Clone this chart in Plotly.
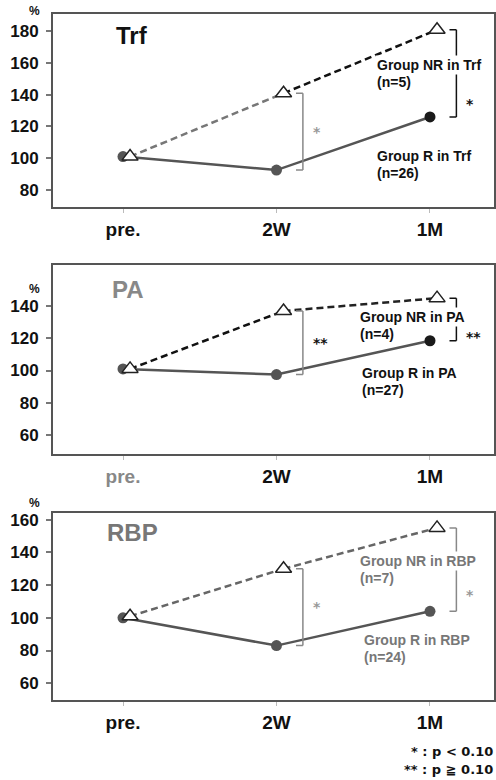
import plotly.graph_objects as go

# ---------------- data ----------------
categories = ["pre.", "2W", "1M"]
panel_names = ["Trf", "PA", "RBP"]

r_trf = [101, 92.5, 126]
nr_trf = [101, 141, 181]
r_pa = [101, 97.5, 118.5]
nr_pa = [101, 137, 145]
r_rbp = [100, 83, 104]
nr_rbp = [101, 130, 155]

n_r = [26, 27, 24]
n_nr = [5, 4, 7]

yticks_trf = [80, 100, 120, 140, 160, 180]
yticks_pa = [60, 80, 100, 120, 140]
yticks_rbp = [60, 80, 100, 120, 140, 160]

sig_labels = [["*", "*"], ["**", "**"], ["*", "*"]]  # at 2W, 1M
legend_lines = ["* : p < 0.10", "** : p \u2267 0.10"]

# ---------------- styling ----------------
W, H = 496, 780
L, R = 53, 2
FONT = "Liberation Sans, Arial, sans-serif"


def px_x(px):
    return (px - L) / (W - L - R)


def px_y(py):
    return (H - py) / H


panels = [
    dict(r=r_trf, nr=nr_trf, ticks=yticks_trf, box=(206, 12), yr=[68.9, 191],
         title_c="#111", txt_c="#111", r_marker=["#555", "#555", "#1a1a1a"],
         nr_seg=["#777", "#111"], br_c=["#888", "#111"], star_c=["#999", "#111"],
         star_frac=[0.5, 0.85], pre_c="#111",
         title_pos=(114, 34), nr_pos=(375, 63), r_pos=(375, 154), pct=(34, 9)),
    dict(r=r_pa, nr=nr_pa, ticks=yticks_pa, box=(453, 264), yr=[48.2, 165.4],
         title_c="#888", txt_c="#111", r_marker=["#555", "#555", "#1a1a1a"],
         nr_seg=["#111", "#222"], br_c=["#888", "#111"], star_c=["#111", "#111"],
         star_frac=[0.5, 0.9], pre_c="#888",
         title_pos=(110, 288), nr_pos=(358, 316), r_pos=(360, 372), pct=(34, 288)),
    dict(r=r_rbp, nr=nr_rbp, ticks=yticks_rbp, box=(700, 512), yr=[49.6, 164.3],
         title_c="#777", txt_c="#777", r_marker=["#555", "#555", "#555"],
         nr_seg=["#666", "#666"], br_c=["#888", "#888"], star_c=["#999", "#999"],
         star_frac=[0.5, 0.8], pre_c="#111",
         title_pos=(105, 532), nr_pos=(358, 560), r_pos=(362, 640), pct=(34, 502)),
]

xs = list(range(len(categories)))
tri_off = 0.046
br_off = 0.172
hook = 0.045

fig = go.Figure()
shapes = []
annotations = []

for i, p in enumerate(panels):
    sfx = "" if i == 0 else str(i + 1)
    xref, yref = "x" + sfx, "y" + sfx
    xt = [x + tri_off for x in xs]

    # NR dashed segments
    for s in range(len(xs) - 1):
        fig.add_trace(go.Scatter(
            x=[xt[s], xt[s + 1]], y=[p["nr"][s], p["nr"][s + 1]], mode="lines",
            line=dict(color=p["nr_seg"][s], width=2.5, dash="7px,4px"),
            xaxis=xref, yaxis=yref, showlegend=False, hoverinfo="skip"))
    # R solid line with circles
    fig.add_trace(go.Scatter(
        x=xs, y=p["r"], mode="lines+markers",
        line=dict(color="#555", width=2.5),
        marker=dict(size=11, color=p["r_marker"]),
        xaxis=xref, yaxis=yref, showlegend=False))
    # NR triangles
    fig.add_trace(go.Scatter(
        x=xt, y=p["nr"], mode="markers",
        marker=dict(symbol="triangle-up", size=14, color="white",
                    line=dict(color="#222", width=1.5)),
        xaxis=xref, yaxis=yref, showlegend=False))

    # significance brackets at 2W and 1M
    for k, j in enumerate([1, 2]):
        xb = xs[j] + br_off
        yt, yb = p["nr"][j], p["r"][j]
        c = p["br_c"][k]
        for (x0, y0, x1, y1) in [(xb, yb, xb, yt), (xb - hook, yt, xb, yt), (xb - hook, yb, xb, yb)]:
            shapes.append(dict(type="line", xref=xref, yref=yref, x0=x0, y0=y0, x1=x1, y1=y1,
                               line=dict(color=c, width=1.5)))
        annotations.append(dict(
            xref=xref, yref=yref, x=xb + 0.05, y=yt - p["star_frac"][k] * (yt - yb),
            text=sig_labels[i][k], showarrow=False, xanchor="left", yanchor="middle",
            font=dict(family="DejaVu Sans", size=14, color=p["star_c"][k], weight="bold")))

    # texts
    tx, ty = p["title_pos"]
    annotations.append(dict(xref="paper", yref="paper", x=px_x(tx), y=px_y(ty),
                            text=panel_names[i], showarrow=False, xanchor="left", yanchor="middle",
                            font=dict(family=FONT, size=24, color=p["title_c"], weight="bold")))
    gx, gy = p["nr_pos"]
    annotations.append(dict(xref="paper", yref="paper", x=px_x(gx), y=px_y(gy),
                            text=f"Group NR in {panel_names[i]}", showarrow=False,
                            xanchor="left", yanchor="middle", bgcolor="white", borderpad=1,
                            font=dict(family=FONT, size=14, color=p["txt_c"], weight="bold")))
    annotations.append(dict(xref="paper", yref="paper", x=px_x(gx), y=px_y(gy + 17),
                            text=f"(n={n_nr[i]})", showarrow=False,
                            xanchor="left", yanchor="middle",
                            font=dict(family=FONT, size=14, color=p["txt_c"], weight="bold")))
    rx, ry = p["r_pos"]
    annotations.append(dict(xref="paper", yref="paper", x=px_x(rx), y=px_y(ry),
                            text=f"Group R in {panel_names[i]}", showarrow=False,
                            xanchor="left", yanchor="middle",
                            font=dict(family=FONT, size=14, color=p["txt_c"], weight="bold")))
    annotations.append(dict(xref="paper", yref="paper", x=px_x(rx), y=px_y(ry + 17),
                            text=f"(n={n_r[i]})", showarrow=False,
                            xanchor="left", yanchor="middle",
                            font=dict(family=FONT, size=14, color=p["txt_c"], weight="bold")))
    cx, cy = p["pct"]
    annotations.append(dict(xref="paper", yref="paper", x=px_x(cx), y=px_y(cy),
                            text="%", showarrow=False, xanchor="center", yanchor="middle",
                            font=dict(family=FONT, size=12, color="#111", weight="bold")))

    bot, top = p["box"]
    ticktext = [f'<span style="color:{p["pre_c"]}">{categories[0]}</span>'] + categories[1:]
    fig.layout["xaxis" + sfx] = dict(
        domain=[0, 1], anchor=yref, range=[-0.456, 2.417],
        tickvals=xs, ticktext=ticktext, ticks="outside", ticklen=4, tickcolor="#bbb", tickwidth=1,
        tickfont=dict(family=FONT, size=19, color="#111", weight="bold"),
        showline=True, mirror=True, linecolor="#555", linewidth=2,
        showgrid=False, zeroline=False, fixedrange=True)
    fig.layout["yaxis" + sfx] = dict(
        domain=[px_y(bot), px_y(top)], anchor=xref, range=p["yr"],
        tickvals=p["ticks"], ticks="outside", ticklen=5, tickcolor="#777", tickwidth=1.5,
        ticklabelstandoff=4,
        tickfont=dict(family=FONT, size=17, color="#111", weight="bold"),
        showline=True, mirror=True, linecolor="#555", linewidth=2,
        showgrid=False, zeroline=False, fixedrange=True)

# significance legend
for k, line in enumerate(legend_lines):
    annotations.append(dict(xref="paper", yref="paper", x=px_x(495), y=px_y(751 + 18 * k),
                            text=line, showarrow=False, xanchor="right", yanchor="middle",
                            font=dict(family="DejaVu Sans", size=13, color="#111", weight="bold")))

fig.update_layout(
    width=W, height=H, margin=dict(l=L, r=R, t=0, b=0),
    paper_bgcolor="white", plot_bgcolor="white",
    shapes=shapes, annotations=annotations, showlegend=False)

fig.write_html("out.html", config={"displayModeBar": False},
               post_script="document.body.style.margin='0';")
